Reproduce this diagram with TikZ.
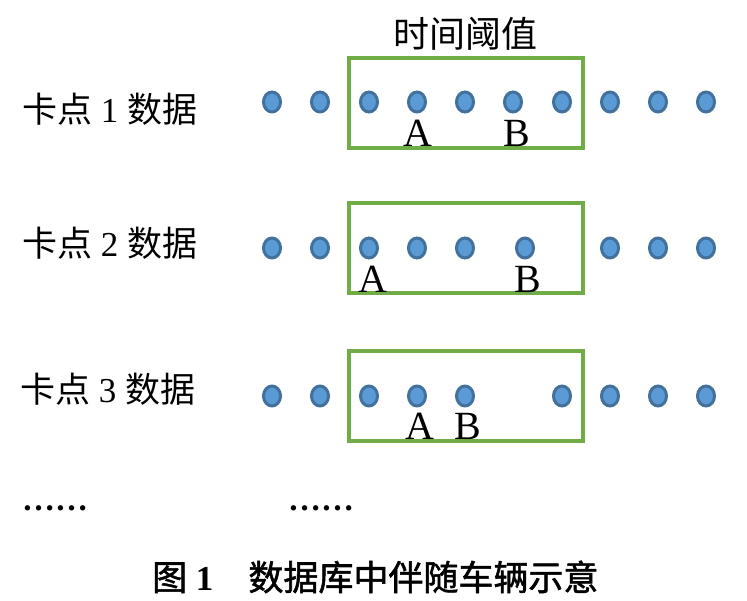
\documentclass[tikz,border=0pt]{standalone}
\usepackage{fontspec}
\setmainfont{Liberation Serif}
\newfontfamily\cjk{Noto Sans CJK SC}
\newfontfamily\cjkcap{Noto Sans CJK SC}[FakeBold=1.5]
\usetikzlibrary{shapes.geometric}
\definecolor{dotfill}{HTML}{5B9BD5}
\definecolor{dotedge}{HTML}{41719C}
\definecolor{wingreen}{HTML}{70AD47}

\begin{document}
\begin{tikzpicture}[x=1pt,y=-1pt,
        rec-node/.style={ellipse,draw=dotedge,fill=dotfill,line width=3pt,
            minimum width=17pt,minimum height=20pt,inner sep=0pt},
        win-node/.style={rectangle,draw=wingreen,line width=4pt,
            minimum width=234pt,minimum height=90pt,inner sep=0pt},
        car-node/.style={anchor=base,inner sep=0pt,font=\fontsize{40}{40}\selectfont},
        row-node/.style={anchor=west,inner sep=0pt,font=\fontsize{35}{35}\selectfont},
        more-node/.style={anchor=base west,inner sep=0pt,font=\fontsize{33}{33}\selectfont\bfseries}
    ]
        \useasboundingbox (0,0) rectangle (747,601);

        \node[inner sep=0pt,font=\fontsize{36}{36}\selectfont] (thr) at (465, 34) {\cjk 时间阈值};

        \node[win-node] (win1) at (466, 103) {};
        \node[win-node] (win2) at (466, 248.5) {};
        \node[win-node] (win3) at (466, 396) {};

        \node[row-node] (lab1) at (22, 109) {{\cjk 卡点} 1 {\cjk 数据}};
        \node[row-node] (lab2) at (22, 243) {{\cjk 卡点} 2 {\cjk 数据}};
        \node[row-node] (lab3) at (20, 389) {{\cjk 卡点} 3 {\cjk 数据}};

        % checkpoint 1
        \node[rec-node] (r1a) at (272, 102) {};
        \node[rec-node] (r1b) at (320, 102) {};
        \node[rec-node] (r1c) at (369, 102) {};
        \node[rec-node] (r1d) at (417, 102) {};
        \node[rec-node] (r1e) at (465, 102) {};
        \node[rec-node] (r1f) at (513, 102) {};
        \node[rec-node] (r1g) at (562, 102) {};
        \node[rec-node] (r1h) at (610, 102) {};
        \node[rec-node] (r1i) at (658, 102) {};
        \node[rec-node] (r1j) at (706, 102) {};

        % checkpoint 2
        \node[rec-node] (r2a) at (272, 248) {};
        \node[rec-node] (r2b) at (320, 248) {};
        \node[rec-node] (r2c) at (369, 248) {};
        \node[rec-node] (r2d) at (417, 248) {};
        \node[rec-node] (r2e) at (465, 248) {};
        \node[rec-node] (r2f) at (525, 248) {};
        \node[rec-node] (r2g) at (610, 248) {};
        \node[rec-node] (r2h) at (658, 248) {};
        \node[rec-node] (r2i) at (706, 248) {};

        % checkpoint 3
        \node[rec-node] (r3a) at (272, 396) {};
        \node[rec-node] (r3b) at (320, 396) {};
        \node[rec-node] (r3c) at (369, 396) {};
        \node[rec-node] (r3d) at (417, 396) {};
        \node[rec-node] (r3e) at (465, 396) {};
        \node[rec-node] (r3f) at (562, 396) {};
        \node[rec-node] (r3g) at (610, 396) {};
        \node[rec-node] (r3h) at (658, 396) {};
        \node[rec-node] (r3i) at (706, 396) {};

        \node[car-node] (a1) at (418, 147) {A};
        \node[car-node] (b1) at (517, 147) {B};
        \node[car-node] (a2) at (373, 293) {A};
        \node[car-node] (b2) at (528, 293) {B};
        \node[car-node] (a3) at (420, 439) {A};
        \node[car-node] (b3) at (468, 439) {B};

        \node[more-node] (more1) at (22, 510) {……};
        \node[more-node] (more2) at (288, 510) {……};

        \node[anchor=west,inner sep=0pt,font=\fontsize{35}{35}\selectfont] (cap) at (152, 577)
            {{\cjkcap 图} \textbf{1}\hspace{1em}{\cjkcap 数据库中伴随车辆示意}};
    \end{tikzpicture}
\end{document}
